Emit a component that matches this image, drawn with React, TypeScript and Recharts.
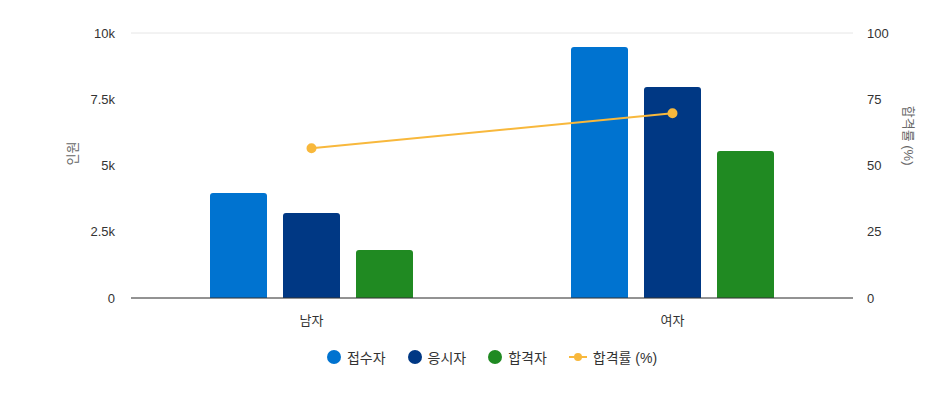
import React from "react"
import {
  Bar,
  CartesianGrid,
  ComposedChart,
  Legend,
  Line,
  XAxis,
  YAxis,
} from "recharts"

const categories = ["남자", "여자"]
const applicants = [3960, 9470]
const examinees = [3210, 7960]
const passed = [1810, 5550]
const passRate = [56.5, 69.7]

const leftTicks = [0, 2500, 5000, 7500, 10000]
const rightTicks = [0, 25, 50, 75, 100]

const data = categories.map((c, i) => ({
  name: c,
  applicants: applicants[i],
  examinees: examinees[i],
  passed: passed[i],
  rate: passRate[i],
}))

const FONT = '"Liberation Sans", Arial, "Noto Sans CJK KR", sans-serif'

const legendItems = [
  { label: "접수자", color: "#0073d0", type: "circle" },
  { label: "응시자", color: "#003884", type: "circle" },
  { label: "합격자", color: "#208a22", type: "circle" },
  { label: "합격률 (%)", color: "#f8b83c", type: "line" },
]

function CustomLegend() {
  return (
    <div style={{ display: "flex", justifyContent: "center", gap: 22, fontSize: 14, color: "#333", fontFamily: FONT }}>
      {legendItems.map((it) => (
        <div key={it.label} style={{ display: "flex", alignItems: "center", gap: 6 }}>
          {it.type === "circle" ? (
            <svg width={14} height={14}>
              <circle cx={7} cy={7} r={7} fill={it.color} />
            </svg>
          ) : (
            <svg width={18} height={14}>
              <line x1={0} y1={7} x2={18} y2={7} stroke={it.color} strokeWidth={2} />
              <circle cx={9} cy={7} r={4} fill={it.color} />
            </svg>
          )}
          <span>{it.label}</span>
        </div>
      ))}
    </div>
  )
}

const fmtK = (v: number) => (v === 0 ? "0" : `${v / 1000}k`)

export default function App() {
  return (
    <div style={{ position: "absolute", left: 0, top: 0, width: 943, height: 413, background: "#fff", fontFamily: FONT }}>
      <ComposedChart
        width={943}
        height={413}
        data={data}
        margin={{ top: 33, right: 30, left: 71, bottom: 55 }}
        barGap={16}
        barCategoryGap="22%"
      >
        <CartesianGrid vertical={false} stroke="#e6e6e6" />
        <XAxis
          dataKey="name"
          tickLine={false}
          axisLine={{ stroke: "#333" }}
          tick={{ fill: "#333", fontSize: 13 }}
          tickMargin={12}
          height={40}
        />
        <YAxis
          yAxisId="left"
          domain={[0, 10000]}
          ticks={leftTicks}
          tickFormatter={fmtK}
          tickLine={false}
          axisLine={false}
          tick={{ fill: "#333", fontSize: 13 }}
          tickMargin={10}
          width={60}
          label={{ value: "인원", angle: -90, position: "insideLeft", offset: 0, dx: 1, fill: "#666", fontSize: 13 }}
        />
        <YAxis
          yAxisId="right"
          orientation="right"
          domain={[0, 100]}
          ticks={rightTicks}
          tickLine={false}
          axisLine={false}
          tick={{ fill: "#333", fontSize: 13, textAnchor: "start" }}
          tickMargin={8}
          width={60}
          label={{ value: "합격률 (%)", angle: 90, position: "insideRight", offset: 0, dx: -4, fill: "#666", fontSize: 13 }}
        />
        <Legend verticalAlign="bottom" content={<CustomLegend />} wrapperStyle={{ bottom: 46 }} />
        <Bar yAxisId="left" dataKey="applicants" name="접수자" fill="#0073d0" barSize={57} radius={[3, 3, 0, 0]} isAnimationActive={false} />
        <Bar yAxisId="left" dataKey="examinees" name="응시자" fill="#003884" barSize={57} radius={[3, 3, 0, 0]} isAnimationActive={false} />
        <Bar yAxisId="left" dataKey="passed" name="합격자" fill="#208a22" barSize={57} radius={[3, 3, 0, 0]} isAnimationActive={false} />
        <Line
          yAxisId="right"
          dataKey="rate"
          name="합격률 (%)"
          stroke="#f8b83c"
          strokeWidth={2}
          dot={{ r: 4, fill: "#f8b83c", stroke: "#f8b83c" }}
          isAnimationActive={false}
        />
      </ComposedChart>
    </div>
  )
}
